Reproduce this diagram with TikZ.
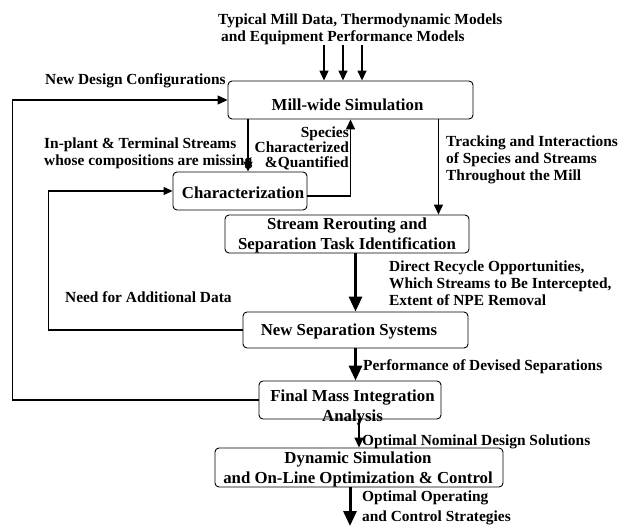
\documentclass[tikz,border=0pt]{standalone}
\usepackage{fontspec}
\setmainfont{Liberation Serif}
\usetikzlibrary{calc, arrows.meta}

\begin{document}
\begin{tikzpicture}[x=1pt, y=-1pt,
                box/.style={draw, rounded corners=4pt, line width=0.9pt, inner sep=0pt},
                boxtxt/.style={font=\fontsize{16.8}{20}\selectfont\bfseries, align=center, inner sep=0pt},
                lbl/.style={font=\fontsize{15.4}{16.8}\selectfont\bfseries, inner sep=0pt},
                arr/.style={line width=1.4pt, -{Triangle[length=10pt, width=9pt]}},
                midarr/.style={line width=1.6pt, -{Triangle[length=10pt, width=9pt]}},
                bigarr/.style={line width=3pt, -{Triangle[length=15pt, width=13pt]}},
                fb/.style={line width=1.1pt}]
                \useasboundingbox (0,0) rectangle (621,527);
                \node[box, minimum width=245pt, minimum height=38pt] (mill) at (350.5,100) {};
                \node[box, minimum width=134pt, minimum height=38pt] (charac) at (240,191) {};
                \node[box, minimum width=244pt, minimum height=38pt] (reroute) at (347,234) {};
                \node[box, minimum width=225pt, minimum height=36pt] (newsep) at (355.5,330) {};
                \node[box, minimum width=182pt, minimum height=38pt] (final) at (350,400) {};
                \node[box, minimum width=288pt, minimum height=39pt] (dyn) at (359,467.5) {};
                \node[boxtxt] at ($(mill)+(-3,5)$) {Mill-wide Simulation};
                \node[boxtxt] at ($(charac)+(3,2)$) {Characterization};
                \node[boxtxt] at ($(reroute)+(0,1.5)$) {Stream Rerouting and\\Separation Task Identification};
                \node[boxtxt] at ($(newsep)+(-6.5,1)$) {New Separation Systems};
                \node[boxtxt] at ($(final)+(2.5,7.5)$) {Final Mass Integration\\Analysis};
                \node[boxtxt] at ($(dyn)+(-1,1.5)$) {Dynamic Simulation\\and On-Line Optimization \& Control};
                \node[lbl, anchor=west, align=left] (feed) at (218,29) {Typical Mill Data, Thermodynamic Models\\\hspace{3pt}and Equipment Performance Models};
                \node[lbl, anchor=west] (newcfg) at (45,81) {New Design Configurations};
                \node[lbl, anchor=west, align=left] (missing) at (44,153.5) {In-plant \& Terminal Streams\\whose compositions are missing};
                \node[lbl, anchor=east, align=right, font=\fontsize{15.4}{15}\selectfont\bfseries] (species) at (349,148) {Species\\Characterized\\\&Quantified};
                \node[lbl, anchor=west, align=left] (tracking) at (446,160) {Tracking and Interactions\\of Species and Streams\\Throughout the Mill};
                \node[lbl, anchor=west, align=left] (recycle) at (389,283) {Direct Recycle Opportunities,\\Which Streams to Be Intercepted,\\Extent of NPE Removal};
                \node[lbl, anchor=west] (needdata) at (65,297) {Need for Additional Data};
                \node[lbl, anchor=west] (perf) at (363,367) {Performance of Devised Separations};
                \node[lbl, anchor=west] (nominal) at (362,442) {Optimal Nominal Design Solutions};
                \node[lbl, anchor=west, align=left] (operating) at (362,508) {Optimal Operating\\[3.5pt]and Control Strategies};
                \foreach \x in {324,343,362}
                    \draw[arr] (\x,0 |- feed.south) -- (\x,0 |- mill.north);
                \coordinate (cin) at ($(charac.north)+(8,0)$);
                \coordinate (trk) at ($(mill.south east)+(-35,0)$);
                \coordinate (out) at (350,526);
                \draw[arr] (cin |- mill.south) -- (cin);
                \draw[arr] ([yshift=-5pt]charac.east) -| (mill.south);
                \draw[arr] (trk) -- (trk |- reroute.north);
                \draw[bigarr] (newsep.north |- reroute.south) -- (newsep.north);
                \draw[bigarr] (newsep.south) -- (newsep.south |- final.north);
                \draw[midarr] (dyn.north |- final.south) -- (dyn.north);
                \draw[bigarr] (out |- dyn.south) -- (out);
                \draw[fb, -{Triangle[length=10pt, width=9pt]}] (final.west) -- ++(-246,0) |- (mill.west);
                \draw[fb, -{Triangle[length=9pt, width=8pt]}] (newsep.west) -- ++(-194,0) |- (charac.west);
            \end{tikzpicture}
\end{document}
